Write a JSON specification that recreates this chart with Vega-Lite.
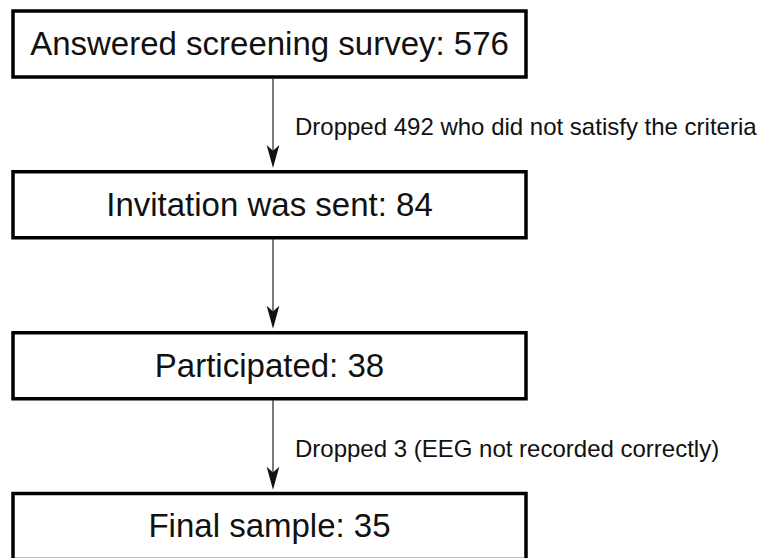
{
  "$schema": "https://vega.github.io/schema/vega-lite/v6.json",
  "width": 764,
  "height": 558,
  "autosize": "none",
  "padding": 0,
  "background": "white",
  "config": {"view": {"stroke": null}},
  "datasets": {
    "steps": [
      {"step": 0, "label": "Answered screening survey: 576"},
      {"step": 1, "label": "Invitation was sent: 84"},
      {"step": 2, "label": "Participated: 38"},
      {"step": 3, "label": "Final sample: 35"}
    ],
    "arrows": [
      {"from": 0, "to": 1, "note": "Dropped 492 who did not satisfy the criteria"},
      {"from": 1, "to": 2, "note": ""},
      {"from": 2, "to": 3, "note": "Dropped 3 (EEG not recorded correctly)"}
    ]
  },
  "layer": [
    {
      "data": {"name": "steps"},
      "mark": {"type": "rect", "fill": "white", "stroke": "#000", "strokeWidth": 3.5, "yOffset": -33, "y2Offset": 33},
      "encoding": {
        "x": {"datum": -1, "type": "quantitative", "scale": {"domain": [-1.0507, 1.9279], "nice": false, "zero": false}, "axis": null},
        "x2": {"datum": 1},
        "y": {"field": "step", "type": "quantitative", "scale": {"domain": [-0.2736, 3.1959], "reverse": true, "nice": false, "zero": false}, "axis": null},
        "y2": {"field": "step"}
      }
    },
    {
      "data": {"name": "steps"},
      "mark": {"type": "text", "font": "Liberation Sans", "fontSize": 33, "align": "center", "baseline": "alphabetic", "dy": 11, "color": "#111"},
      "encoding": {
        "x": {"datum": 0, "type": "quantitative"},
        "y": {"field": "step", "type": "quantitative"},
        "text": {"field": "label"}
      }
    },
    {
      "data": {"name": "arrows"},
      "mark": {"type": "rule", "color": "#222", "strokeWidth": 1.2, "xOffset": 3.5, "yOffset": 34, "y2Offset": -45},
      "encoding": {
        "x": {"datum": 0, "type": "quantitative"},
        "y": {"field": "from", "type": "quantitative"},
        "y2": {"field": "to"}
      }
    },
    {
      "data": {"name": "arrows"},
      "mark": {"type": "point", "shape": "M0,1 L-0.55,-1 L0,-0.5 L0.55,-1 Z", "filled": true, "opacity": 1, "size": 529, "color": "#111", "strokeWidth": 0, "xOffset": 3.5, "yOffset": -48.3},
      "encoding": {
        "x": {"datum": 0, "type": "quantitative"},
        "y": {"field": "to", "type": "quantitative"}
      }
    },
    {
      "data": {"name": "arrows"},
      "mark": {"type": "text", "font": "Liberation Sans", "fontSize": 24, "align": "left", "baseline": "alphabetic", "xOffset": 3.5, "dx": 22, "yOffset": 91, "color": "#111"},
      "encoding": {
        "x": {"datum": 0, "type": "quantitative"},
        "y": {"field": "from", "type": "quantitative"},
        "text": {"field": "note"}
      }
    }
  ]
}
